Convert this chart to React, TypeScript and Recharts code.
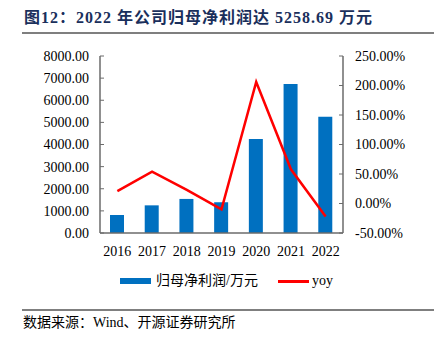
import React from "react";
import { ComposedChart, Bar, Line, XAxis, YAxis } from "recharts";

const years = ["2016", "2017", "2018", "2019", "2020", "2021", "2022"];
const netProfit = [814, 1250, 1540, 1390, 4250, 6730, 5258.69];
const yoy = [21, 54, 23, -10, 206, 58, -22];

const leftTicks = [0, 1000, 2000, 3000, 4000, 5000, 6000, 7000, 8000];
const rightTicks = [-50, 0, 50, 100, 150, 200, 250];
const edgeTicks = [0, 1, 2, 3, 4, 5, 6, 7];

const chartData = years.map((year, i) => ({
  year,
  profit: netProfit[i],
  yoy: yoy[i],
}));

const serif = '"Liberation Serif", "Times New Roman", "Noto Sans CJK SC", serif';
const axisColor = "#6b6b6b";
const tickStyle = { fontSize: 14, fill: "#000", fontFamily: serif };

export default function App() {
  return (
    <div
      style={{
        position: "absolute",
        left: 0,
        top: 0,
        width: 434,
        height: 339,
        background: "#fff",
        fontFamily: serif,
      }}
    >
      <div
        style={{
          position: "absolute",
          left: 24,
          top: 8,
          fontSize: 16,
          fontWeight: "bold",
          letterSpacing: 1,
          color: "#1a2f5c",
          whiteSpace: "nowrap",
          lineHeight: "20px",
        }}
      >
        图12：2022 年公司归母净利润达 5258.69 万元
      </div>
      <div style={{ position: "absolute", left: 22, top: 32, width: 412, height: 1.5, background: "#7f7f7f" }} />

      <ComposedChart
        width={434}
        height={339}
        data={chartData}
        margin={{ top: 56, right: 0, bottom: 76, left: 0 }}
      >
        <XAxis
          xAxisId="edge"
          type="number"
          domain={[0, 7]}
          ticks={edgeTicks}
          height={0}
          tick={false}
          tickSize={-4}
          axisLine={false}
          tickLine={{ stroke: axisColor }}
        />
        <XAxis
          xAxisId="cat"
          dataKey="year"
          height={30}
          tickSize={0}
          tickMargin={13}
          tick={tickStyle}
          axisLine={{ stroke: axisColor, strokeWidth: 1.5 }}
          tickLine={false}
          interval={0}
        />
        <YAxis
          yAxisId="left"
          width={100}
          domain={[0, 8000]}
          ticks={leftTicks}
          tickFormatter={(v: number) => v.toFixed(2)}
          tick={tickStyle}
          tickSize={-4}
          tickMargin={15}
          axisLine={{ stroke: axisColor, strokeWidth: 1.5 }}
          tickLine={{ stroke: axisColor }}
        />
        <YAxis
          yAxisId="right"
          orientation="right"
          width={91}
          domain={[-50, 250]}
          ticks={rightTicks}
          tickFormatter={(v: number) => `${v.toFixed(2)}%`}
          tick={tickStyle}
          tickSize={-4}
          tickMargin={16}
          axisLine={{ stroke: axisColor, strokeWidth: 1.5 }}
          tickLine={{ stroke: axisColor }}
        />
        <Bar
          xAxisId="cat"
          yAxisId="left"
          dataKey="profit"
          fill="#0070C0"
          barSize={14}
          isAnimationActive={false}
        />
        <Line
          xAxisId="cat"
          yAxisId="right"
          dataKey="yoy"
          type="linear"
          stroke="#FF0000"
          strokeWidth={2.5}
          dot={false}
          isAnimationActive={false}
        />
      </ComposedChart>

      <div style={{ position: "absolute", left: 120, top: 278, width: 31, height: 6, background: "#0070C0" }} />
      <div
        style={{
          position: "absolute",
          left: 156,
          top: 272,
          fontSize: 14,
          lineHeight: "18px",
          whiteSpace: "nowrap",
          color: "#000",
        }}
      >
        归母净利润/万元
      </div>
      <div style={{ position: "absolute", left: 278, top: 280, width: 31, height: 2.5, background: "#FF0000" }} />
      <div
        style={{
          position: "absolute",
          left: 312,
          top: 272,
          fontSize: 14,
          lineHeight: "18px",
          color: "#000",
        }}
      >
        yoy
      </div>

      <div style={{ position: "absolute", left: 22, top: 309, width: 412, height: 1.5, background: "#7f7f7f" }} />
      <div
        style={{
          position: "absolute",
          left: 23,
          top: 314,
          fontSize: 14,
          lineHeight: "18px",
          whiteSpace: "nowrap",
          color: "#000",
        }}
      >
        数据来源：Wind、开源证券研究所
      </div>
    </div>
  );
}
